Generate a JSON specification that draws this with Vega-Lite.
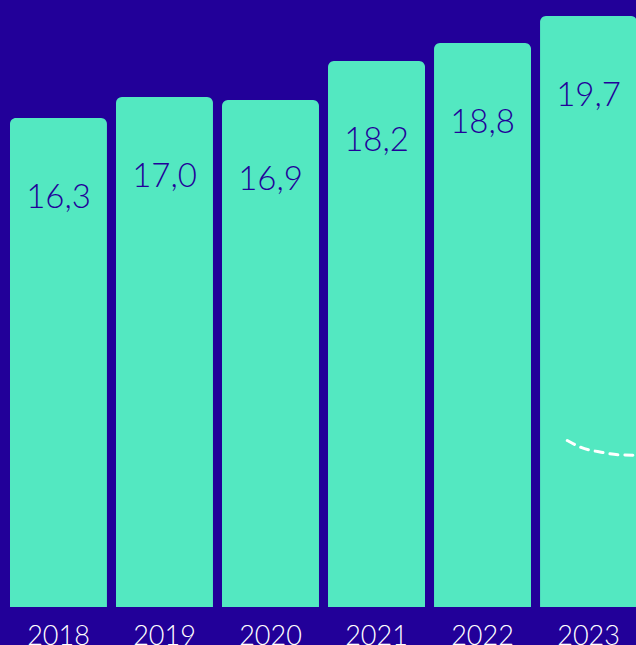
{
  "$schema": "https://vega.github.io/schema/vega-lite/v6.json",
  "width": 647,
  "height": 607,
  "padding": 0,
  "autosize": {"type": "pad"},
  "background": "#220099",
  "config": {"view": {"stroke": null}},
  "datasets": {
    "bars": [
      {"year": "2018", "value": 16.3, "label": "16,3"},
      {"year": "2019", "value": 17.0, "label": "17,0"},
      {"year": "2020", "value": 16.9, "label": "16,9"},
      {"year": "2021", "value": 18.2, "label": "18,2"},
      {"year": "2022", "value": 18.8, "label": "18,8"},
      {"year": "2023", "value": 19.7, "label": "19,7"}
    ],
    "curve": [
      {"t": 2022.80, "v": 5.55},
      {"t": 2022.93, "v": 5.32},
      {"t": 2023.12, "v": 5.16},
      {"t": 2023.30, "v": 5.07},
      {"t": 2023.45, "v": 5.06},
      {"t": 2023.58, "v": 5.12}
    ]
  },
  "layer": [
    {
      "layer": [
        {
          "data": {"name": "bars"},
          "mark": {"type": "bar", "color": "#53E8C1", "cornerRadiusTopLeft": 6, "cornerRadiusTopRight": 6},
          "encoding": {
            "x": {
              "field": "year", "type": "ordinal",
              "scale": {"paddingInner": 0.085, "paddingOuter": 0.094},
              "axis": {"title": null, "domain": false, "ticks": false, "labelAngle": 0, "labelFont": "Lato", "labelFontWeight": 300, "labelFontSize": 27, "labelColor": "#ffffff", "labelPadding": 16, "labelBaseline": "top"}
            },
            "y": {
              "field": "value", "type": "quantitative",
              "scale": {"domain": [0, 20.2333], "nice": false, "zero": true},
              "axis": null
            }
          }
        },
        {
          "data": {"name": "bars"},
          "mark": {"type": "text", "color": "#220099", "font": "Lato", "fontWeight": 300, "fontSize": 33, "baseline": "middle", "align": "center", "dy": 80},
          "encoding": {
            "x": {"field": "year", "type": "ordinal"},
            "y": {"field": "value", "type": "quantitative"},
            "text": {"field": "label"}
          }
        }
      ]
    },
    {
      "data": {"name": "curve"},
      "mark": {"type": "line", "color": "#ffffff", "strokeWidth": 3, "strokeDash": [8, 7], "interpolate": "monotone", "strokeCap": "round"},
      "encoding": {
        "x": {"field": "t", "type": "quantitative", "scale": {"domain": [2017.448, 2023.552], "nice": false, "zero": false}, "axis": null},
        "y": {"field": "v", "type": "quantitative"}
      }
    }
  ],
  "resolve": {"scale": {"x": "independent"}}
}
